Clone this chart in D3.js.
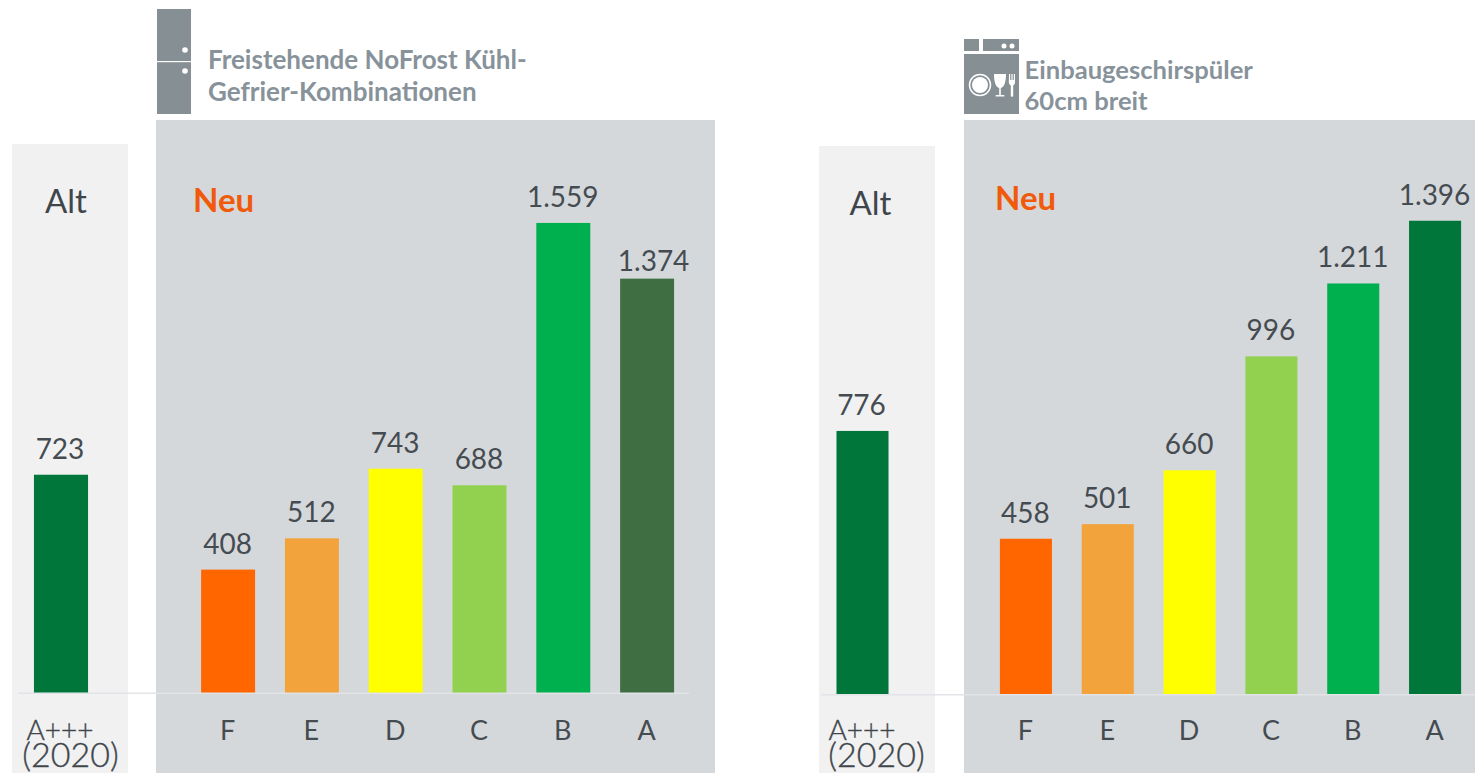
<!DOCTYPE html>
<html>
<head>
<meta charset="utf-8">
<script src="https://cdn.jsdelivr.net/npm/d3@7"></script>
<style>
html, body { margin:0; padding:0; background:#fff; overflow:hidden; }
svg { display:block; font-family:Lato, sans-serif; }
.axis .domain { display:none; }
.axis text { font-family:Lato, sans-serif; font-size:27px; fill:#454c51; }
.value { font-size:28px; fill:#454c51; text-anchor:middle; }
.title { font-weight:700; fill:#87929a; }
.old-label { font-weight:300; fill:#3f464b; stroke:#3f464b; stroke-width:0.35px; text-anchor:middle; }
</style>
</head>
<body>
<div id="chart"></div>
<script>
const W = 1475, H = 773;

const classes = ['F','E','D','C','B','A'];
const oldClass = ['A+++'];

const fridgeNew = [408,512,743,688,1559,1374];
const fridgeOld = [723];
const dishwasherNew = [458,501,660,996,1211,1396];
const dishwasherOld = [776];

const fridgeColors = ['#ff6600','#f3a33b','#ffff00','#92d14f','#00b04f','#406e43'];
const dishwasherColors = ['#ff6600','#f3a33b','#ffff00','#92d14f','#00b04f','#00763a'];
const oldColor = '#00763a';

const fridgeTitle = ['Freistehende NoFrost Kühl-','Gefrier-Kombinationen'];
const dishwasherTitle = ['Einbaugeschirspüler','60cm breit'];

const fmt = v => v >= 1000 ? String(v).replace(/(\d)(\d{3})$/,'$1.$2') : String(v);

const svg = d3.select('#chart').append('svg')
	.attr('width', W)
	.attr('height', H);

function panel(c){
	const g = svg.append('g').attr('class','panel');

	//backgrounds
	g.append('rect').attr('x',c.oldBg[0]).attr('y',c.oldBg[1]).attr('width',116).attr('height',H-c.oldBg[1]).attr('fill','#f1f1f2');
	g.append('rect').attr('x',c.newBg[0]).attr('y',120).attr('width',c.newBg[1]-c.newBg[0]).attr('height',H-120).attr('fill','#d5d8db');

	const scaleY = d3.scaleLinear().domain([0, 1600]).range([c.base, c.base - 1600*c.pxPerUnit]);
	const scaleX = d3.scaleBand().domain(classes).range(c.newRange).paddingInner(c.pad).paddingOuter(c.pad/2);
	const scaleOld = d3.scaleBand().domain(oldClass).range(c.oldRange).paddingInner(c.pad).paddingOuter(c.pad/2);

	//baseline
	g.append('line')
		.attr('x1',c.line[0]).attr('x2',c.line[1])
		.attr('y1',c.base+0.75).attr('y2',c.base+0.75)
		.attr('stroke','#e2e4e7').attr('stroke-width',1.5);

	g.selectAll('.bar-new').data(c.values).join('rect')
		.attr('class','bar-new')
		.attr('x',(d,i) => scaleX(classes[i]))
		.attr('y',d => scaleY(d))
		.attr('width',scaleX.bandwidth())
		.attr('height',d => scaleY(0)-scaleY(d))
		.attr('fill',(d,i) => c.colors[i]);

	g.selectAll('.bar-old').data(c.oldValues).join('rect')
		.attr('class','bar-old')
		.attr('x',(d,i) => scaleOld(oldClass[i]))
		.attr('y',d => scaleY(d))
		.attr('width',scaleOld.bandwidth())
		.attr('height',d => scaleY(0)-scaleY(d))
		.attr('fill',oldColor);

	//the 1.374 label sits lower and to the right in the original
	const nudge = i => c.nudge && c.nudge.index === i ? c.nudge : {dx:0, dy:0};

	g.selectAll('.value-new').data(c.values).join('text')
		.attr('class','value value-new')
		.attr('x',(d,i) => scaleX(classes[i]) + scaleX.bandwidth()/2 - 0.5 + nudge(i).dx)
		.attr('y',(d,i) => scaleY(d) - 16 + nudge(i).dy)
		.text(fmt);

	g.selectAll('.value-old').data(c.oldValues).join('text')
		.attr('class','value value-old')
		.attr('x',(d,i) => scaleOld(oldClass[i]) + scaleOld.bandwidth()/2 - 1)
		.attr('y',d => scaleY(d) - 16)
		.text(fmt);

	const axisX = d3.axisBottom().scale(scaleX).tickSize(0).tickPadding(0);
	g.append('g')
		.attr('class','axis axis-x')
		.attr('transform',`translate(-0.5, ${c.axisY})`)
		.call(axisX)
		.selectAll('text').attr('dy',0);

	//old class label, the two lines overlap in the original
	g.append('text').attr('class','old-label').attr('x',c.oldLabelX).attr('y',740)
		.attr('font-size',28).text(oldClass[0]);
	g.append('text').attr('class','old-label').attr('x',c.yearX).attr('y',767)
		.attr('font-size',34).text('(2020)');

	g.append('text').attr('x',c.altX).attr('y',c.altY).attr('text-anchor','middle')
		.attr('font-size',33).attr('fill','#3f464b').text('Alt');
	g.append('text').attr('x',c.neuX).attr('y',c.neuY)
		.attr('font-size',33).attr('font-weight',700).attr('fill','#f05a0a').text('Neu');

	g.append('text').attr('class','title')
		.attr('font-size',c.titleSize)
		.selectAll('tspan').data(c.title).join('tspan')
		.attr('x',c.titleX)
		.attr('y',(d,i) => c.titleY[i])
		.text(d => d);
}

panel({
	values:fridgeNew, oldValues:fridgeOld, colors:fridgeColors, title:fridgeTitle,
	oldBg:[12,144], newBg:[156,715], base:692.5, pxPerUnit:0.3012,
	newRange:[186.2,689], oldRange:[19,103], pad:0.356,
	nudge:{index:5, dx:7, dy:8},
	line:[18,689], axisY:740, oldLabelX:60, yearX:70.5, altX:66, altY:213, neuX:193, neuY:212,
	titleSize:26, titleX:208, titleY:[69,101]
});

panel({
	values:dishwasherNew, oldValues:dishwasherOld, colors:dishwasherColors, title:dishwasherTitle,
	oldBg:[819,146], newBg:[964,1475], base:694, pxPerUnit:0.339,
	newRange:[985,1476], oldRange:[821.6,903.4], pad:0.364,
	line:[821,1475], axisY:740, oldLabelX:862, yearX:876.5, altX:870.5, altY:215, neuX:995, neuY:210,
	titleSize:25.6, titleX:1024.5, titleY:[79,110]
});

//fridge icon
const icon = svg.append('g').attr('class','icons');
icon.append('rect').attr('x',157).attr('y',9).attr('width',34).attr('height',105).attr('fill','#868f94');
icon.append('rect').attr('x',157).attr('y',61).attr('width',34).attr('height',1.2).attr('fill','#fff');
icon.selectAll('.knob').data([50,71]).join('circle').attr('class','knob')
	.attr('cx',185).attr('cy',d => d).attr('r',2.8).attr('fill','#fff');

//dishwasher icon
icon.append('rect').attr('x',964).attr('y',39).attr('width',15).attr('height',12).attr('fill','#868f94');
icon.append('rect').attr('x',983).attr('y',39).attr('width',36).attr('height',12).attr('fill','#868f94');
icon.selectAll('.dot').data([1004,1012]).join('circle').attr('class','dot')
	.attr('cx',d => d).attr('cy',46).attr('r',2.5).attr('fill','#fff');
icon.append('rect').attr('x',964).attr('y',54).attr('width',55).attr('height',60).attr('fill','#868f94');
icon.append('circle').attr('cx',980).attr('cy',85).attr('r',10.5).attr('fill','none').attr('stroke','#fff').attr('stroke-width',1.5);
icon.append('circle').attr('cx',980).attr('cy',85).attr('r',8).attr('fill','#fff');
icon.append('path').attr('d','M994,74h12c0,9,-2,13,-5.2,14v7h3.5v1.5h-8.6v-1.5h3.5v-7c-3.2,-1,-5.2,-5,-5.2,-14z').attr('fill','#fff');
icon.append('path').attr('d','M1009,74h1.2v6h1.2v-6h1.2v6h1.2v-6h1.2v8c0,2,-1,3,-1.8,3.5v10.5c0,1,-2.4,1,-2.4,0v-10.5c-.8,-.5,-2,-1.5,-2,-3.5z').attr('fill','#fff');
</script>
</body>
</html>
